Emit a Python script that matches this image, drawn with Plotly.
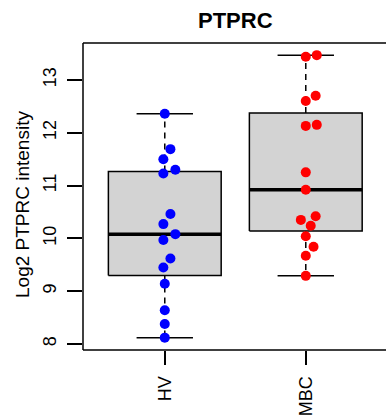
import numpy as np
import plotly.graph_objects as go

groups = ["HV", "MBC"]
hv_values = [12.36, 11.69, 11.50, 11.30, 11.23, 10.46, 10.27, 10.08, 9.97, 9.62, 9.45, 9.14, 8.64, 8.38, 8.12]
hv_jitter = [0.0, 0.04, -0.01, 0.075, -0.01, 0.04, -0.01, 0.075, -0.01, 0.04, -0.01, 0.0, 0.0, 0.0, 0.0]
mbc_values = [13.44, 13.47, 12.60, 12.70, 12.13, 12.15, 11.25, 10.92, 10.35, 10.42, 10.24, 10.04, 9.84, 9.67, 9.29]
mbc_jitter = [0.0, 0.078, 0.0, 0.07, 0.0, 0.078, 0.0, 0.0, -0.035, 0.07, 0.035, 0.0, 0.055, 0.0, 0.0]
colors = ["#0000FF", "#FF0000"]
y_ticks = [8, 9, 10, 11, 12, 13]
title = "PTPRC"
y_label = "Log2 PTPRC intensity"


def fivenum(v):
    x = np.sort(np.asarray(v, dtype=float))
    n = len(x)
    n4 = np.floor((n + 3) / 2) / 2
    d = np.array([1, n4, (n + 1) / 2, n + 1 - n4, n]) - 1
    return 0.5 * (x[np.floor(d).astype(int)] + x[np.ceil(d).astype(int)])


fig = go.Figure()
data = [(hv_values, hv_jitter), (mbc_values, mbc_jitter)]
half = 0.4
staple = 0.2
for i, (vals, jit) in enumerate(data):
    pos = i + 1
    mn, q1, med, q3, mx = fivenum(vals)
    fig.add_trace(go.Scatter(x=[pos, pos, None, pos, pos], y=[q3, mx, None, q1, mn], mode="lines",
                             line=dict(color="black", width=1.5, dash="6px,5px"), hoverinfo="skip", showlegend=False))
    fig.add_trace(go.Scatter(x=[pos - staple, pos + staple, None, pos - staple, pos + staple],
                             y=[mx, mx, None, mn, mn], mode="lines",
                             line=dict(color="black", width=1.5), hoverinfo="skip", showlegend=False))
    fig.add_trace(go.Scatter(x=[pos - half, pos + half, pos + half, pos - half, pos - half],
                             y=[q1, q1, q3, q3, q1], mode="lines", fill="toself",
                             fillcolor="#D3D3D3", line=dict(color="black", width=1.5),
                             hoverinfo="skip", showlegend=False))
    fig.add_trace(go.Scatter(x=[pos - half, pos + half], y=[med, med], mode="lines",
                             line=dict(color="black", width=3.5), hoverinfo="skip", showlegend=False))
    fig.add_trace(go.Scatter(x=[pos + j for j in jit], y=vals, mode="markers",
                             marker=dict(color=colors[i], size=10), showlegend=False))

W, H = 386, 415
ml, mt, mb = 83, 43, 65
plot_w = W - ml
plot_h = H - mt - mb
unit = 141.0
fig.update_layout(
    width=W, height=H,
    margin=dict(l=ml, r=0, t=mt, b=mb, autoexpand=False),
    paper_bgcolor="white", plot_bgcolor="white",
    font=dict(family="Liberation Sans, Arial, sans-serif", color="black"),
    xaxis=dict(range=[0.42, 0.42 + plot_w / unit], tickvals=[1, 2], ticktext=groups,
               tickangle=-90, ticks="outside", ticklen=14, tickwidth=1.5, tickcolor="black",
               showgrid=False, zeroline=False, showline=False, tickfont=dict(size=18),
               ticklabelstandoff=4, automargin=False),
    yaxis=dict(range=[7.886, 13.70], tickvals=y_ticks, tickangle=-90, ticks="outside",
               ticklen=15, tickwidth=1.5, tickcolor="black", showgrid=False, zeroline=False,
               showline=False, tickfont=dict(size=18), ticklabelstandoff=4, automargin=False),
    shapes=[
        dict(type="line", xref="paper", yref="paper", x0=0, x1=0, y0=0, y1=1, line=dict(color="black", width=1.5)),
        dict(type="line", xref="paper", yref="paper", x0=0, x1=1, y0=1, y1=1, line=dict(color="black", width=1.5)),
        dict(type="line", xref="paper", yref="paper", x0=0, x1=1, y0=0, y1=0, line=dict(color="black", width=1.5)),
    ],
    annotations=[
        dict(text="<b>" + title + "</b>", x=1.5, xref="x", y=1 + (mt - 21) / plot_h,
             yref="paper", showarrow=False, font=dict(size=22), xanchor="center", yanchor="middle"),
        dict(text=y_label, x=(22 - ml) / plot_w, xref="paper", y=(H - mb - 205) / plot_h, yref="paper",
             showarrow=False, textangle=-90, font=dict(size=19), xanchor="center", yanchor="middle"),
    ],
)
fig.write_html("out.html", config={"displayModeBar": False},
               post_script="document.body.style.margin='0';document.body.style.overflow='hidden';")
